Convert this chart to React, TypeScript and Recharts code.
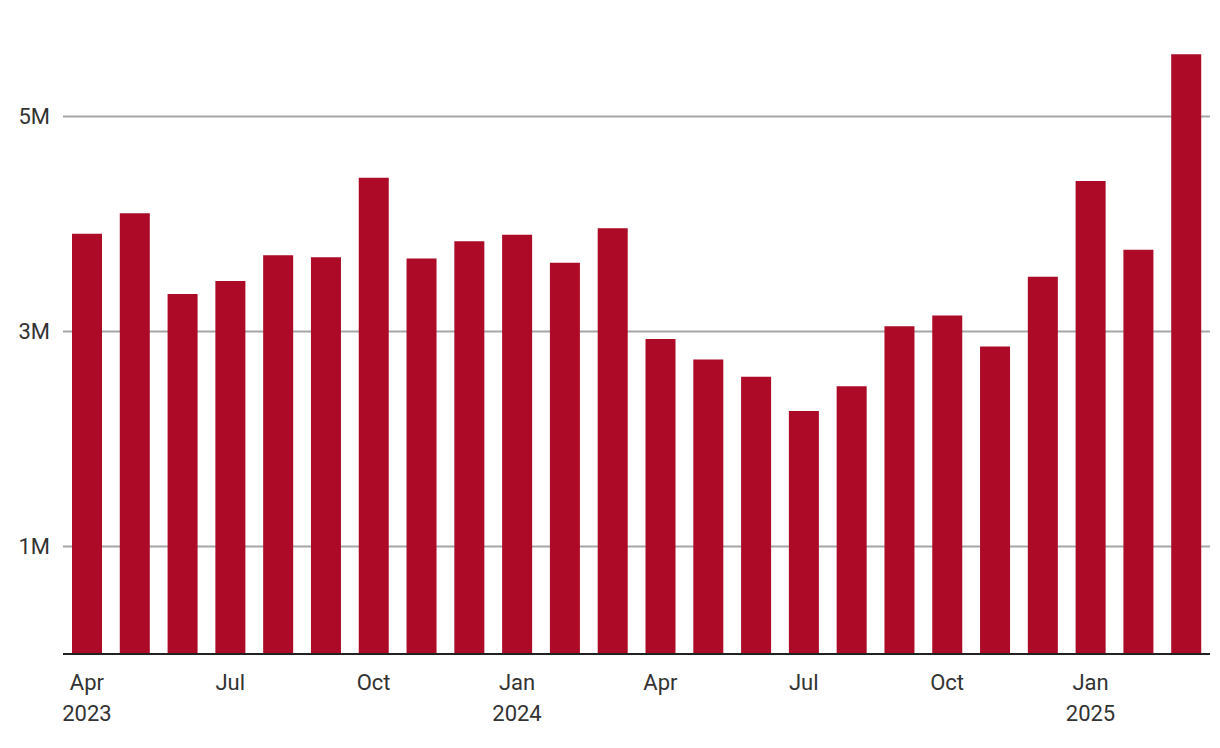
import React from "react";
import { BarChart, Bar, XAxis, YAxis, CartesianGrid } from "recharts";

const months = [
  "2023-04", "2023-05", "2023-06", "2023-07", "2023-08", "2023-09",
  "2023-10", "2023-11", "2023-12", "2024-01", "2024-02", "2024-03",
  "2024-04", "2024-05", "2024-06", "2024-07", "2024-08", "2024-09",
  "2024-10", "2024-11", "2024-12", "2025-01", "2025-02", "2025-03",
];
const values = [
  3.91, 4.10, 3.35, 3.47, 3.71, 3.69,
  4.43, 3.68, 3.84, 3.90, 3.64, 3.96,
  2.93, 2.74, 2.58, 2.26, 2.49, 3.05,
  3.15, 2.86, 3.51, 4.40, 3.76, 5.58,
];
const monthNames = ["Jan", "Feb", "Mar", "Apr", "May", "Jun", "Jul", "Aug", "Sep", "Oct", "Nov", "Dec"];
const yTicks = [1, 3, 5];

const data = months.map((m, i) => ({ month: m, value: values[i] * 1e6 }));

const FONT = "Roboto, 'DejaVu Sans', sans-serif";
const TEXT = "#333333";
const FS = 22;

const MonthTick = (props: any) => {
  const { x, y, payload, index } = props;
  const [yr, mo] = String(payload.value).split("-");
  const mi = parseInt(mo, 10) - 1;
  const showYear = index === 0 || mi === 0;
  return (
    <g>
      <text x={x} y={y + 36} textAnchor="middle" fill={TEXT} fontSize={FS} fontFamily={FONT}>
        {monthNames[mi]}
      </text>
      {showYear && (
        <text x={x} y={y + 67} textAnchor="middle" fill={TEXT} fontSize={FS} fontFamily={FONT}>
          {yr}
        </text>
      )}
    </g>
  );
};

export default function App() {
  return (
    <div style={{ position: "absolute", left: 0, top: 0, width: 1220, height: 748, background: "#fff" }}>
      <BarChart
        width={1220}
        height={748}
        data={data}
        margin={{ top: 9, right: 10, bottom: 0, left: 0 }}
      >
        <CartesianGrid
          vertical={false}
          stroke="#a6a6a6"
          strokeWidth={2}
          horizontalValues={yTicks.map((t) => t * 1e6)}
        />
        <XAxis
          dataKey="month"
          interval={2}
          tickLine={false}
          tickSize={0}
          tickMargin={0}
          axisLine={{ stroke: "#222222", strokeWidth: 2 }}
          tick={<MonthTick />}
          height={94}
        />
        <YAxis
          width={63}
          domain={[0, 6e6]}
          ticks={yTicks.map((t) => t * 1e6)}
          axisLine={false}
          tickLine={false}
          tickSize={0}
          tickMargin={13}
          tickFormatter={(v: number) => `${v / 1e6}M`}
          tick={{ fill: TEXT, fontSize: FS, fontFamily: FONT }}
        />
        <Bar dataKey="value" fill="#ac0a27" barSize={30} isAnimationActive={false} />
      </BarChart>
    </div>
  );
}
